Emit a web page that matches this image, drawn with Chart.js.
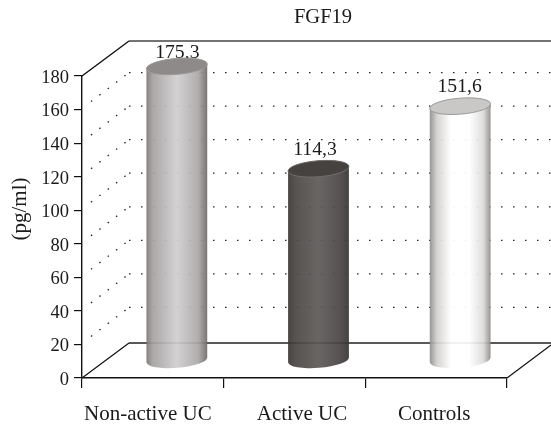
<!DOCTYPE html>
<html>
<head>
<meta charset="utf-8">
<title>FGF19</title>
<script src="https://cdn.jsdelivr.net/npm/chart.js@4"></script>
<style>
    html, body { margin: 0; padding: 0; background: #fff; }
    canvas { display: block; }
</style>
</head>
<body>
<canvas id="chart" width="551" height="425"></canvas>
<script>
// Values
const categories = ['Non-active UC', 'Active UC', 'Controls'];
const values = [175.3, 114.3, 151.6];
const yTicks = [0, 20, 40, 60, 80, 100, 120, 140, 160, 180];

const chartTitle = 'FGF19';
const yAxisTitle = '(pg/ml)';

// Cylinder shading, left to right
const bodyStops = [
    [[0, '#7b7674'], [0.1, '#a3a09f'], [0.5, '#d0cecf'], [0.85, '#aaa7a7'], [1, '#6e6967']],
    [[0, '#393634'], [0.15, '#4a4745'], [0.5, '#5c5857'], [0.85, '#474443'], [1, '#353230']],
    [[0, '#8f8c8a'], [0.12, '#d2d1cf'], [0.35, '#ffffff'], [0.65, '#ffffff'], [0.88, '#dcdbda'], [1, '#8d8b89']]
];
const capColors = ['#8e8a8a', '#454240', '#c9c8c6'];
const rimColors = ['#9c9898', '#6f6c6a', '#9b9a98'];

const serif = '"Liberation Serif", serif';
const inkColor = '#1a1a1a';

// Depth of the fake 3D box
const depthX = 47;
const depthY = -35;

function dottedLine(ctx, x1, y1, x2, y2, dash) {
    ctx.save();
    ctx.strokeStyle = '#222';
    ctx.lineWidth = 1.3;
    ctx.setLineDash(dash);
    ctx.beginPath();
    ctx.moveTo(x1, y1);
    ctx.lineTo(x2, y2);
    ctx.stroke();
    ctx.restore();
}

function solidLine(ctx, x1, y1, x2, y2, width, color) {
    ctx.save();
    ctx.strokeStyle = color;
    ctx.lineWidth = width;
    ctx.beginPath();
    ctx.moveTo(x1, y1);
    ctx.lineTo(x2, y2);
    ctx.stroke();
    ctx.restore();
}

// Draws the back walls, floor and value labels behind the bars
// (the first cap hides the comma of its label, like in the picture)
const boxPlugin = {
    id: 'box',
    beforeDatasetsDraw(chart) {
        const ctx = chart.ctx;
        const area = chart.chartArea;
        const yScale = chart.scales.y;
        const bars = chart.getDatasetMeta(0).data;
        const labelLift = [14, 19, 19];
        const labelShift = [1, -3, 0];

        yScale.ticks.forEach(tick => {
            if (tick.value === 0 || tick.value === 180) return;
            const y = yScale.getPixelForValue(tick.value);
            dottedLine(ctx, area.left + 9, y - 8, area.left + depthX, y - 37, [1.5, 9]);
            dottedLine(ctx, area.left + depthX, y - 37, chart.width, y - 37, [1.5, 10.5]);
        });

        solidLine(ctx, area.left, area.top, area.left + depthX, area.top + depthY, 1.4, '#111');
        solidLine(ctx, area.left + depthX, area.top + depthY, chart.width, area.top + depthY, 1.6, '#444');
        solidLine(ctx, area.left, area.bottom, area.left + depthX, area.bottom + depthY, 1.2, '#111');
        solidLine(ctx, area.left + depthX, area.bottom + depthY, chart.width, area.bottom + depthY, 1.6, '#222');
        solidLine(ctx, area.right, area.bottom, chart.width, area.bottom + depthY + 2, 1.2, '#111');

        ctx.save();
        ctx.fillStyle = inkColor;
        ctx.textAlign = 'center';
        ctx.textBaseline = 'middle';
        ctx.font = '19.7px ' + serif;
        values.forEach((v, i) => {
            const label = v.toFixed(1).replace('.', ',');
            ctx.fillText(label, bars[i].x + depthX / 2 + labelShift[i], bars[i].y + depthY / 2 - labelLift[i]);
        });
        ctx.restore();
    }
};

// Draws a cylinder on every bar, using the bar's own position
const cylinderPlugin = {
    id: 'cylinders',
    afterDatasetsDraw(chart) {
        const ctx = chart.ctx;
        const bars = chart.getDatasetMeta(0).data;
        const tilt = -0.08;
        const ry = 8;

        bars.forEach((bar, i) => {
            const rx = bar.width / 2;
            const cx = bar.x + depthX / 2 + 0.5;
            const topY = bar.y + depthY / 2;
            const baseY = bar.base + depthY / 2;

            const grad = ctx.createLinearGradient(cx - rx, 0, cx + rx, 0);
            bodyStops[i].forEach(stop => grad.addColorStop(stop[0], stop[1]));

            ctx.save();
            ctx.globalAlpha = 0.92;
            ctx.fillStyle = grad;
            ctx.beginPath();
            ctx.ellipse(cx, baseY, rx, ry, tilt, 0, Math.PI);
            ctx.ellipse(cx, topY, rx, ry, tilt, Math.PI, Math.PI * 2);
            ctx.closePath();
            ctx.fill();
            ctx.restore();

            ctx.save();
            ctx.fillStyle = capColors[i];
            ctx.strokeStyle = rimColors[i];
            ctx.lineWidth = 1;
            ctx.beginPath();
            ctx.ellipse(cx, topY, rx, ry, tilt, 0, Math.PI * 2);
            ctx.fill();
            ctx.stroke();
            ctx.restore();
        });
    }
};

// Title, axis title and category names
const labelPlugin = {
    id: 'labels',
    afterDraw(chart) {
        const ctx = chart.ctx;
        const xScale = chart.scales.x;
        const categoryShift = [-5, 7.5, -2];

        ctx.save();
        ctx.fillStyle = inkColor;
        ctx.textAlign = 'center';
        ctx.textBaseline = 'middle';

        ctx.font = '20.5px ' + serif;
        ctx.fillText(chartTitle, 323, 18);

        ctx.font = '21px ' + serif;
        categories.forEach((name, i) => {
            ctx.fillText(name, xScale.getPixelForTick(i) + categoryShift[i], 414);
        });

        ctx.translate(20, 209);
        ctx.rotate(-Math.PI / 2);
        ctx.fillText(yAxisTitle, 0, 0);
        ctx.restore();
    }
};

document.addEventListener('DOMContentLoaded', function() {
    new Chart(document.getElementById('chart'), {
        type: 'bar',
        data: {
            labels: categories,
            datasets: [{
                data: values,
                backgroundColor: 'transparent',
                borderWidth: 0,
                barThickness: 61
            }]
        },
        options: {
            responsive: false,
            animation: false,
            layout: { padding: { top: 76, right: 44, left: 0, bottom: 0 } },
            plugins: {
                legend: { display: false },
                tooltip: { enabled: false }
            },
            scales: {
                x: {
                    afterFit: scale => { scale.height = 47; },
                    grid: { drawOnChartArea: false, color: '#111', tickLength: 10, lineWidth: 1.2 },
                    border: { color: '#111', width: 1.4 },
                    ticks: { display: false }
                },
                y: {
                    min: 0,
                    max: 180,
                    afterFit: scale => { scale.width = 82; },
                    afterBuildTicks: scale => { scale.ticks = yTicks.map(value => ({ value })); },
                    grid: { drawOnChartArea: false, color: '#111', tickLength: 8, lineWidth: 1.2 },
                    border: { color: '#111', width: 1.4 },
                    ticks: {
                        color: inkColor,
                        padding: 5,
                        labelOffset: 2,
                        font: { family: serif, size: 18.5 }
                    }
                }
            }
        },
        plugins: [boxPlugin, cylinderPlugin, labelPlugin]
    });
});
</script>
</body>
</html>
